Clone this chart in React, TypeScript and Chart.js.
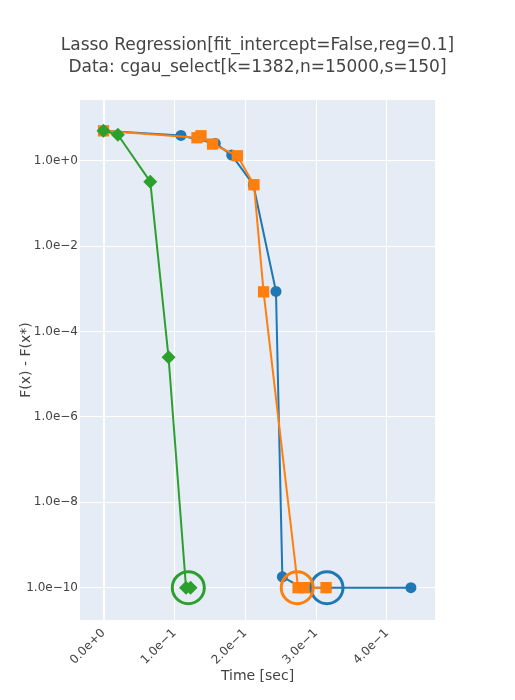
import React, { useEffect, useRef } from "react";
import { Chart, registerables } from "chart.js";

Chart.register(...registerables);

const titleLines = [
  "Lasso Regression[fit_intercept=False,reg=0.1]",
  "Data: cgau_select[k=1382,n=15000,s=150]",
];
const xTitle = "Time [sec]";
const yTitle = "F(x) - F(x*)";

const xTicks = [0, 0.1, 0.2, 0.3, 0.4];
const yTicks = [1e-10, 1e-8, 1e-6, 1e-4, 1e-2, 1];

const blueTime = [0, 0.1093, 0.1578, 0.181, 0.2115, 0.2435, 0.2525, 0.2805, 0.3145, 0.434];
const blueGap = [5.03, 3.92, 2.55, 1.36, 0.274, 8.7e-4, 1.8e-10, 1e-10, 1e-10, 1e-10];

const orangeTime = [0, 0.132, 0.1376, 0.154, 0.189, 0.2124, 0.226, 0.2747, 0.2839, 0.3142];
const orangeGap = [5.03, 3.46, 3.85, 2.46, 1.31, 0.274, 8.5e-4, 1e-10, 1e-10, 1e-10];

const greenTime = [0, 0.0203, 0.066, 0.0918, 0.1165, 0.1229];
const greenGap = [5.03, 4.06, 0.323, 2.5e-5, 1e-10, 1e-10];

// highlighted (hollow ring) points per series
const ringTime = [0.3155, 0.2735, 0.1197];
const ringGap = [1e-10, 1e-10, 1e-10];

const colors = ["#1f77b4", "#ff7f0e", "#2ca02c"];

function fmt(v: number): string {
  if (v === 0) return "0.0e+0";
  const exp = Math.floor(Math.log10(Math.abs(v)) + 1e-9);
  const mant = v / Math.pow(10, exp);
  return mant.toFixed(1) + "e" + (exp < 0 ? "\u2212" : "+") + Math.abs(exp);
}

function zip(xs: number[], ys: number[]) {
  return xs.map((x, i) => ({ x, y: ys[i] }));
}

const bgPlugin = {
  id: "plotBg",
  beforeDraw(chart: any) {
    const { ctx, chartArea } = chart;
    ctx.save();
    ctx.fillStyle = "#E5ECF6";
    ctx.fillRect(chartArea.left, chartArea.top, chartArea.right - chartArea.left, chartArea.bottom - chartArea.top);
    ctx.restore();
  },
};

export default function App() {
  const ref = useRef<HTMLCanvasElement>(null);
  useEffect(() => {
    if (!ref.current) return;
    Chart.defaults.font.family = "'DejaVu Sans', Verdana, sans-serif";
    Chart.defaults.color = "#444";
    const lineDs = (label: string, xs: number[], ys: number[], color: string, style: string, r: number, order: number) => ({
      label,
      data: zip(xs, ys),
      borderColor: color,
      backgroundColor: color,
      borderWidth: 2,
      pointStyle: style,
      pointRadius: r,
      pointBorderWidth: 0,
      pointBackgroundColor: color,
      tension: 0,
      order,
    });
    const chart = new Chart(ref.current, {
      type: "line",
      data: {
        datasets: [
          lineDs("blue", blueTime, blueGap, colors[0], "circle", 5.5, 5),
          lineDs("orange", orangeTime, orangeGap, colors[1], "rect", 8, 4),
          lineDs("green", greenTime, greenGap, colors[2], "rectRot", 7, 3),
          ...ringTime.map((t, i) => ({
            label: "ring" + i,
            data: [{ x: t, y: ringGap[i] }],
            showLine: false,
            borderColor: colors[i],
            backgroundColor: "rgba(0,0,0,0)",
            pointStyle: "circle",
            pointRadius: 16,
            pointBorderWidth: 3,
            pointBorderColor: colors[i],
            pointBackgroundColor: "rgba(0,0,0,0)",
            order: 2 - i,
          })),
        ],
      },
      options: {
        responsive: false,
        animation: false,
        events: [],
        layout: { padding: 0 },
        plugins: {
          legend: { display: false },
          tooltip: { enabled: false },
          title: {
            display: true,
            text: titleLines,
            color: "#444",
            font: { size: 17, weight: "normal", lineHeight: 22 / 17 },
            padding: { top: 35, bottom: 21 },
          },
        },
        scales: {
          x: {
            type: "linear",
            min: -0.0332,
            max: 0.468,
            afterBuildTicks: (s: any) => {
              s.ticks = xTicks.map((v) => ({ value: v }));
            },
            afterFit: (s: any) => {
              s.height = 80;
            },
            grid: {
              color: "#ffffff",
              lineWidth: (c: any) => (c.tick && c.tick.value === 0 ? 2 : 1),
              drawTicks: false,
            },
            border: { display: false },
            ticks: {
              autoSkip: false,
              minRotation: 45,
              maxRotation: 45,
              padding: 6,
              color: "#444",
              font: { size: 12 },
              callback: (v: any) => fmt(Number(v)),
            },
            title: {
              display: true,
              text: xTitle,
              color: "#444",
              font: { size: 14 },
              padding: { top: 0, bottom: 15 },
            },
          },
          y: {
            type: "logarithmic",
            min: 1.75e-11,
            max: 26.5,
            afterBuildTicks: (s: any) => {
              s.ticks = yTicks.map((v) => ({ value: v }));
            },
            afterFit: (s: any) => {
              s.width = 80;
            },
            grid: { color: "#ffffff", lineWidth: 1, drawTicks: false },
            border: { display: false },
            ticks: {
              autoSkip: false,
              padding: 2,
              color: "#444",
              font: { size: 12 },
              callback: (v: any) => fmt(Number(v)),
            },
            title: {
              display: true,
              text: yTitle,
              color: "#444",
              font: { size: 14 },
              padding: { top: 18, bottom: 0 },
            },
          },
          spacer: {
            type: "linear",
            position: "right",
            display: true,
            afterFit: (s: any) => {
              s.width = 80;
            },
            grid: { display: false, drawTicks: false },
            border: { display: false },
            ticks: { display: false },
          },
        },
      },
      plugins: [bgPlugin],
    } as any);
    return () => chart.destroy();
  }, []);
  return (
    <div style={{ position: "absolute", left: 0, top: 0, width: 515, height: 700, background: "#fff" }}>
      <canvas ref={ref} width={515} height={700} style={{ display: "block" }} />
    </div>
  );
}
